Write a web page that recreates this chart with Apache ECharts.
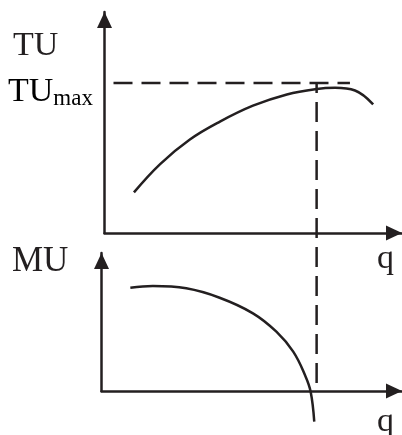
<!DOCTYPE html>
<html>
<head>
<meta charset="utf-8">
<script src="https://cdn.jsdelivr.net/npm/echarts@6/dist/echarts.min.js"></script>
<style>
html,body{margin:0;padding:0;background:#fff;}
#c{width:402px;height:435px;}
</style>
</head>
<body>
<div id="c"></div>
<script>
// Total utility curve (q, TU)
const tuQ = [0.99, 1.87, 2.87, 3.88, 4.99, 6.13, 7.14, 7.75, 8.42, 9.03];
const tuV = [1.84, 3.12, 4.23, 5.04, 5.76, 6.27, 6.52, 6.57, 6.45, 5.82];
// Marginal utility curve (q, MU)
const muQ = [0.96, 1.71, 2.82, 3.93, 5.04, 5.82, 6.38, 6.77, 6.96, 7.08];
const muV = [7.49, 7.61, 7.44, 6.76, 5.63, 4.30, 2.85, 1.16, -0.05, -2.22];
// TUmax guide lines
const tuMaxLevel = 6.79;
const tuMaxGuideEnd = 8.25;
const qStar = 7.13;
const qStarGuideBottom = -7.01;
// Labels
const labelTU = 'TU';
const labelTUmaxMain = 'TU';
const labelTUmaxSub = 'max';
const labelMU = 'MU';
const labelQ = 'q';

const ink = '#231f20';
const font = '"Liberation Serif", "Times New Roman", serif';

function pairs(xs, ys){ return xs.map((x,i)=>[x, ys[i]]); }

function axisCommon(extra){
  return Object.assign({
    type: 'value', min: 0, max: 10,
    axisTick: {show:false}, axisLabel: {show:false}, splitLine: {show:false},
    axisLine: {show:true, onZero:false, lineStyle:{color:ink, width:2.5},
      symbol:['none','triangle'], symbolSize:[15,16], symbolOffset:[0,-8]}
  }, extra||{});
}

const chart = echarts.init(document.getElementById('c'), null, {renderer:'canvas'});
chart.setOption({
  animation: false,
  backgroundColor: '#fff',
  grid: [
    {left:104.5, right:0, top:12, bottom:202},
    {left:101.5, right:0, top:253, bottom:44}
  ],
  xAxis: [axisCommon({gridIndex:0}), axisCommon({gridIndex:1})],
  yAxis: [axisCommon({gridIndex:0}), axisCommon({gridIndex:1})],
  series: [
    {type:'line', xAxisIndex:0, yAxisIndex:0, data:pairs(tuQ, tuV), smooth:0.4,
     showSymbol:false, lineStyle:{color:ink, width:2.5}, clip:false},
    {type:'line', xAxisIndex:0, yAxisIndex:0,
     data:[[0,tuMaxLevel],[tuMaxGuideEnd,tuMaxLevel]], showSymbol:false,
     lineStyle:{color:ink, width:2.5, type:[19,9], dashOffset:19}, clip:false},
    {type:'line', xAxisIndex:0, yAxisIndex:0,
     data:[[qStar,tuMaxLevel],[qStar,qStarGuideBottom]], showSymbol:false,
     lineStyle:{color:ink, width:2.5, type:[20,9], dashOffset:10}, clip:false},
    {type:'line', xAxisIndex:1, yAxisIndex:1, data:pairs(muQ, muV), smooth:0.4,
     showSymbol:false, lineStyle:{color:ink, width:2.5}, clip:false}
  ],
  graphic: [
    {type:'text', left:13, top:29, style:{text:labelTU, font:'34px '+font, fill:ink}},
    {type:'text', left:8, top:75, style:{rich:{m:{fontSize:34, fontFamily:font, color:ink}, s:{fontSize:23, fontFamily:font, color:ink, padding:[14,0,0,0]}}, text:'{m|'+labelTUmaxMain+'}{s|'+labelTUmaxSub+'}'}},
    {type:'text', left:12, top:244, style:{text:labelMU, font:'35px '+font, fill:ink}},
    {type:'text', left:377, top:242, style:{text:labelQ, font:'34px '+font, fill:ink}},
    {type:'text', left:377, top:405, style:{text:labelQ, font:'34px '+font, fill:ink}}
  ]
});
</script>
</body>
</html>
